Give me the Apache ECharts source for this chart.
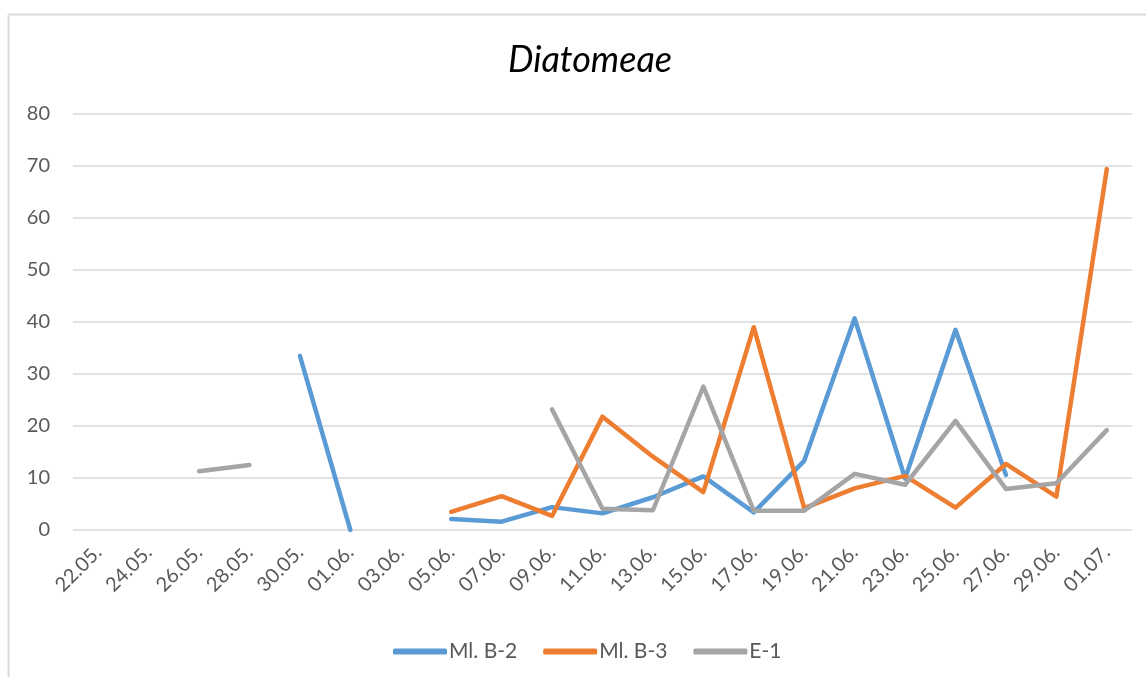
<!DOCTYPE html>
<html>
<head>
<meta charset="utf-8">
<style>
  html, body { margin: 0; padding: 0; background: #fff; }
  #main { width: 1146px; height: 677px; }
</style>
<script src="https://cdn.jsdelivr.net/npm/echarts@6/dist/echarts.min.js"></script>
</head>
<body>
<div id="main"></div>
<script>
// datumi
var dates = ['22.05.', '24.05.', '26.05.', '28.05.', '30.05.', '01.06.', '03.06.', '05.06.', '07.06.', '09.06.', '11.06.',
  '13.06.', '15.06.', '17.06.', '19.06.', '21.06.', '23.06.', '25.06.', '27.06.', '29.06.', '01.07.'];
// vrijednosti po postajama (null = nema uzorka)
var mlB2 = [null, null, null, null, 33.5, 0, null, 2.1, 1.6, 4.4, 3.2, 6.3, 10.3, 3.4, 13.3, 40.7, 9.9, 38.5, 10.6, null, null];
var mlB3 = [null, null, null, null, null, null, null, 3.5, 6.5, 2.7, 21.8, 14.1, 7.3, 39, 4.2, 8.0, 10.4, 4.3, 12.7, 6.4, 69.4];
var e1 = [null, null, 11.3, 12.5, null, null, null, null, null, 23.2, 4.1, 3.8, 27.6, 3.7, 3.7, 10.8, 8.7, 21.0, 7.9, 9.0, 19.2];
var yTicks = [0, 80, 10];

(function () {
  var myChart = echarts.init(document.getElementById('main'));
  var txt = '#595959';
  function mkLine(name, data, color) {
    return {
      name: name,
      type: 'line',
      data: data,
      showSymbol: false,
      symbol: 'none',
      connectNulls: false,
      lineStyle: { color: color, width: 4.5, cap: 'round', join: 'round' },
      itemStyle: { color: color }
    };
  }
  var option = {
    animation: false,
    textStyle: { fontFamily: 'Lato' },
    title: {
      text: 'Diatomeae',
      left: 503,
      top: 37,
      textStyle: { fontFamily: 'Lato', fontStyle: 'italic', fontWeight: 'normal', fontSize: 36, color: '#000' }
    },
    // okvir grafikona
    graphic: [
      { type: 'line', shape: { x1: 8.5, y1: 14.5, x2: 1146, y2: 14.5 }, style: { stroke: '#d9d9d9', lineWidth: 2 } },
      { type: 'line', shape: { x1: 8.5, y1: 14.5, x2: 8.5, y2: 677 }, style: { stroke: '#d9d9d9', lineWidth: 2 } }
    ],
    legend: {
      left: 388,
      top: 636,
      icon: 'roundRect',
      itemWidth: 54,
      itemHeight: 6,
      itemGap: 26,
      textStyle: { color: txt, fontSize: 21, fontFamily: 'Lato', padding: [0, 0, 0, -3] },
      data: ['Ml. B-2', 'Ml. B-3', 'E-1']
    },
    grid: {
      left: 73,
      right: 14,
      top: 114,
      bottom: 147
    },
    xAxis: {
      type: 'category',
      boundaryGap: true,
      data: dates,
      axisLine: { show: false },
      axisTick: { show: false },
      axisLabel: { rotate: 45, color: txt, fontSize: 20, fontFamily: 'Lato', margin: 19, interval: 0 }
    },
    yAxis: {
      type: 'value',
      min: yTicks[0],
      max: yTicks[1],
      interval: yTicks[2],
      axisLine: { show: false },
      axisTick: { show: false },
      axisLabel: { color: txt, fontSize: 20, fontFamily: 'Lato', margin: 23 },
      splitLine: { lineStyle: { color: '#d9d9d9', width: 1.5 } }
    },
    series: [
      mkLine('Ml. B-2', mlB2, '#5b9bd5'),
      mkLine('Ml. B-3', mlB3, '#ed7d31'),
      mkLine('E-1', e1, '#a5a5a5')
    ]
  };
  myChart.setOption(option);
})();
</script>
</body>
</html>
